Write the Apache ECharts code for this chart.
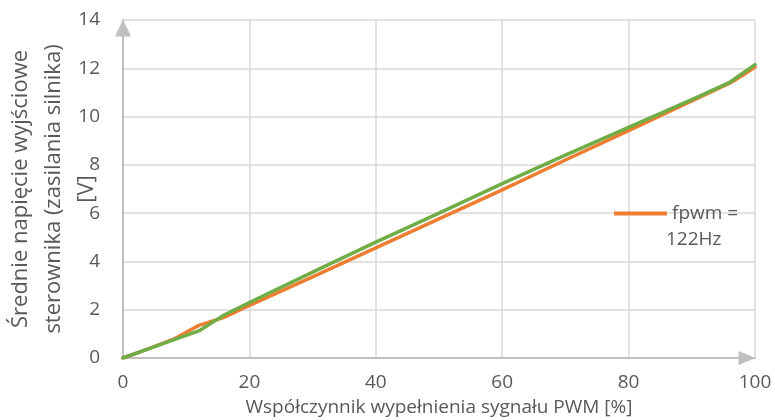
<!DOCTYPE html>
<html>
<head>
<meta charset="utf-8">
<script src="https://cdn.jsdelivr.net/npm/echarts@6/dist/echarts.min.js"></script>
<style>
  html, body { margin: 0; padding: 0; background: #ffffff; }
  #chart { width: 775px; height: 420px; }
</style>
</head>
<body>
<div id="chart"></div>
<script>
// Duty cycle [%] and measured mean output voltage [V]
const dutyA = [0, 4, 8, 12, 16, 20, 30, 40, 50, 60, 70, 80, 90, 96, 98, 100];
const voltA = [0, 0.38, 0.78, 1.35, 1.68, 2.18, 3.36, 4.56, 5.76, 6.96, 8.2, 9.42, 10.65, 11.38, 11.7, 12.05];

const dutyB = [0, 4, 8, 12, 16, 20, 30, 40, 50, 60, 70, 80, 90, 96, 100];
const voltB = [0, 0.38, 0.75, 1.12, 1.78, 2.3, 3.56, 4.8, 6.0, 7.22, 8.4, 9.55, 10.7, 11.42, 12.15];

const seriesNameA = 'fpwm = 122Hz';
const seriesNameB = 'fpwm = 122Hz (2)';
const legendLine1 = 'fpwm =';
const legendLine2 = '122Hz';
const xTitle = 'Współczynnik wypełnienia sygnału PWM [%]';
const yTitle = 'Średnie napięcie wyjściowe\nsterownika (zasilania silnika)\n[V]';

const FONT = 'Open Sans';
const TEXT = '#595959';

const pairs = (xs, ys) => xs.map((x, i) => [x, ys[i]]);

const chart = echarts.init(document.getElementById('chart'), null, { renderer: 'canvas' });
chart.setOption({
  animation: false,
  backgroundColor: '#ffffff',
  grid: { left: 123, right: 20, top: 20, bottom: 62, containLabel: false, outerBoundsMode: 'none' },
  xAxis: {
    type: 'value', min: 0, max: 100, interval: 20,
    name: xTitle, nameLocation: 'middle', nameGap: 40, nameMoveOverlap: false,
    nameTextStyle: { color: TEXT, fontFamily: FONT, fontSize: 19 },
    axisLine: { show: true, lineStyle: { color: '#bfbfbf', width: 2 },
      symbol: ['none', 'triangle'], symbolSize: [14, 17], symbolOffset: [0, -8] },
    axisTick: { show: false },
    axisLabel: { color: TEXT, fontFamily: FONT, fontSize: 19, margin: 15 },
    splitLine: { show: true, lineStyle: { color: '#d9d9d9', width: 1.5 } }
  },
  yAxis: {
    type: 'value', min: 0, max: 14, interval: 2,
    name: yTitle, nameLocation: 'middle', nameGap: 20, nameRotate: 90, nameMoveOverlap: false,
    nameTextStyle: { color: TEXT, fontFamily: FONT, fontSize: 22, lineHeight: 33, align: 'center' },
    axisLine: { show: true, lineStyle: { color: '#bfbfbf', width: 2 },
      symbol: ['none', 'triangle'], symbolSize: [16, 17], symbolOffset: [0, -8] },
    axisTick: { show: false },
    axisLabel: { color: TEXT, fontFamily: FONT, fontSize: 19, margin: 23 },
    splitLine: { show: true, lineStyle: { color: '#d9d9d9', width: 1.5 } }
  },
  legend: {
    data: [seriesNameA],
    left: 609, top: 199,
    itemWidth: 53, itemHeight: 14, itemGap: 0,
    icon: 'path://M0,5 L53,5 L53,9 L0,9 Z',
    formatter: () => legendLine1,
    textStyle: { color: TEXT, fontFamily: FONT, fontSize: 19 }
  },
  graphic: [{
    type: 'text', left: 666, top: 230, silent: true,
    style: { text: legendLine2, fill: TEXT, font: '19px "Open Sans"' }
  }],
  series: [
    {
      name: seriesNameA, type: 'line', data: pairs(dutyA, voltA),
      showSymbol: false, symbol: 'none',
      lineStyle: { color: '#ed7d31', width: 3.5, cap: 'round', join: 'round' },
      itemStyle: { color: '#ed7d31' }
    },
    {
      name: seriesNameB, type: 'line', data: pairs(dutyB, voltB),
      showSymbol: false, symbol: 'none',
      lineStyle: { color: '#70ad47', width: 3.5, cap: 'round', join: 'round' },
      itemStyle: { color: '#70ad47' }
    }
  ]
});
</script>
</body>
</html>
